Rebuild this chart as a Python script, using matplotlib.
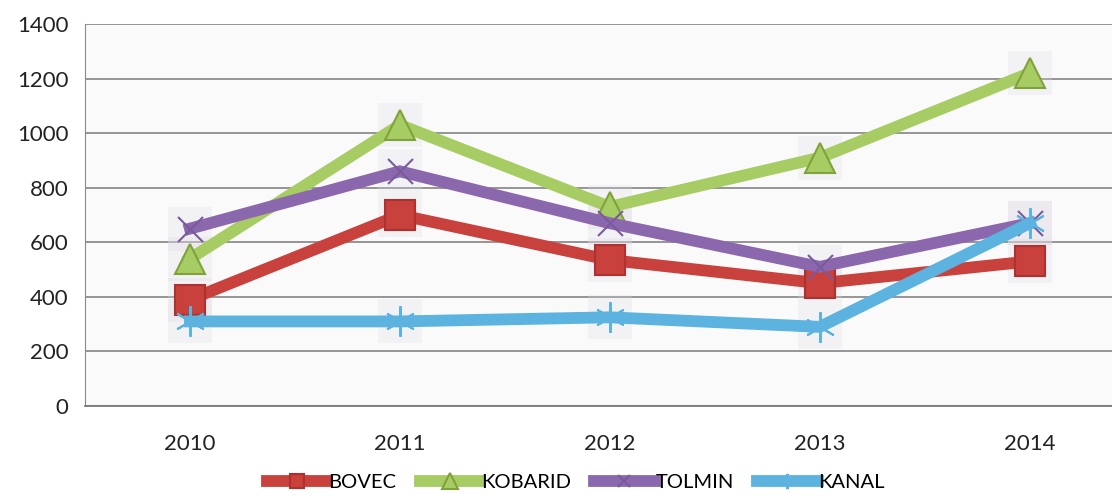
import matplotlib.pyplot as plt

# yearly values per municipality
years = ['2010', '2011', '2012', '2013', '2014']
bovec = [390, 700, 535, 450, 530]
kobarid = [540, 1030, 730, 910, 1220]
tolmin = [650, 860, 670, 510, 670]
kanal = [310, 310, 325, 290, 670]

plt.rcParams['font.family'] = ['Lato', 'DejaVu Sans']

fig = plt.figure(figsize=(11.12, 5), dpi=100)
ax = fig.add_axes([0.0764, 0.188, 0.944, 0.764])
ax.set_facecolor('#fafafa')

x = list(range(len(years)))

series = [
    ('BOVEC', bovec, '#c8413c', 's', 21, '#b03030'),
    ('KOBARID', kobarid, '#a6cc63', '^', 22, '#7fa33a'),
    ('TOLMIN', tolmin, '#8b68ad', 'x', 18, '#7a5a9c'),
    ('KANAL', kanal, '#5cb3e0', (6, 2, 0), 22, '#5cb3e0'),
]

# faint grey boxes behind the markers (scan artefact of the chart style)
for name, vals, col, mk, ms, edge in series:
    ax.plot(x, vals, ls='none', marker='s', ms=32, color='#dcd8e0',
            alpha=0.25, mew=0, zorder=2)

handles = []
for name, vals, col, mk, ms, edge in series:
    h, = ax.plot(x, vals, color=col, lw=8.5, marker=mk, ms=ms,
                 mfc=col, mec=edge, mew=1.5, label=name,
                 solid_joinstyle='miter', zorder=3)
    handles.append(h)

ax.set_xlim(-0.5, 4.5)
ax.set_ylim(0, 1400)
ax.set_yticks(range(0, 1401, 200))
ax.set_xticks(x)
ax.set_xticklabels(years)
ax.yaxis.grid(True, color='#7a7a7a', lw=1.1)
ax.set_axisbelow(True)
ax.tick_params(length=0, labelsize=16, colors='#222222')
ax.tick_params(axis='x', pad=20)
ax.tick_params(axis='y', pad=12)
for s in ['top', 'right']:
    ax.spines[s].set_visible(False)
ax.spines['left'].set_color('#8a8a8a')
ax.spines['bottom'].set_color('#7a7a7a')
ax.spines['bottom'].set_linewidth(1.3)

fig.legend(handles=handles, loc='lower center', bbox_to_anchor=(0.518, -0.018),
           ncol=4, frameon=False, fontsize=14.5, handlelength=3.0,
           handletextpad=0.05, columnspacing=1.15, markerscale=0.5)

fig.savefig('out.png', dpi=100)
